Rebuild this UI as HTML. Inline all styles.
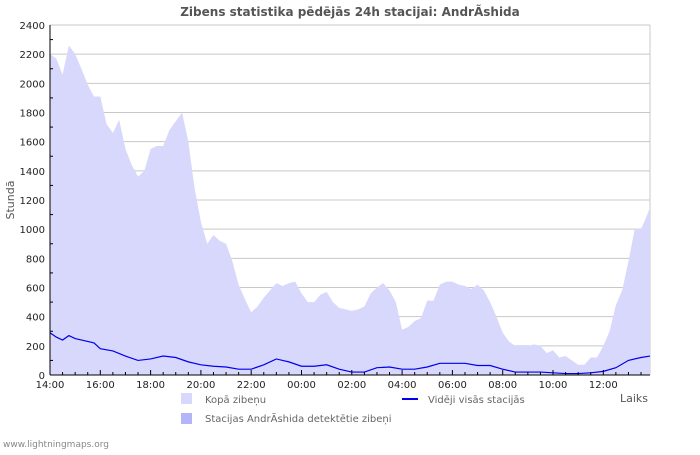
<!DOCTYPE html>
<html><head><meta charset="utf-8">
<style>
body{margin:0;background:#fff;font-family:"Liberation Sans","DejaVu Sans",sans-serif;}
svg text{font-family:"DejaVu Sans","Liberation Sans",sans-serif;}
</style></head>
<body>
<svg id="chart" width="700" height="450" viewBox="0 0 700 450" xmlns="http://www.w3.org/2000/svg">
<rect width="700" height="450" fill="#fff"/>
<text x="350" y="16" text-anchor="middle" font-size="12" font-weight="bold" fill="#555">Zibens statistika pēdējās 24h stacijai: AndrÃ­shida</text>
<g id="grid"></g>
<path id="area-total" fill="#d8d8fc" stroke="none"/>
<path id="line-avg" fill="none" stroke="#0000ee" stroke-width="1.2"/>
<g id="axes"></g>
<text transform="translate(14,200) rotate(-90)" text-anchor="middle" font-size="11" fill="#555">Stundā</text>
<text x="648" y="402" text-anchor="end" font-size="11" fill="#555">Laiks</text>
<rect x="181" y="393" width="11" height="11" fill="#d8d8fc"/>
<text x="205" y="403" font-size="10" fill="#666">Kopā zibeņu</text>
<rect x="181" y="413" width="11" height="11" fill="#b4b4f8"/>
<text x="205" y="422" font-size="10" fill="#666">Stacijas AndrÃ­shida detektētie zibeņi</text>
<line x1="402" y1="399" x2="418" y2="399" stroke="#0000ee" stroke-width="2"/>
<text x="428" y="403" font-size="10" fill="#666">Vidēji visās stacijās</text>
<text x="3" y="447" font-size="9" fill="#888">www.lightningmaps.org</text>
</svg>
<script>
const totalTimes=[0,0.25,0.5,0.75,1,1.25,1.5,1.75,2,2.25,2.5,2.75,3,3.25,3.5,3.75,4,4.25,4.5,4.75,5,5.25,5.5,5.75,6,6.25,6.5,6.75,7,7.25,7.5,7.75,8,8.25,8.5,8.75,9,9.25,9.5,9.75,10,10.25,10.5,10.75,11,11.25,11.5,11.75,12,12.25,12.5,12.75,13,13.25,13.5,13.75,14,14.25,14.5,14.75,15,15.25,15.5,15.75,16,16.25,16.5,16.75,17,17.25,17.5,17.75,18,18.25,18.5,18.75,19,19.25,19.5,19.75,20,20.25,20.5,20.75,21,21.25,21.5,21.75,22,22.25,22.5,22.75,23,23.25,23.5,23.75,23.9];
const totalValues=[2200,2170,2060,2260,2200,2100,1990,1910,1910,1720,1660,1750,1550,1440,1360,1400,1550,1570,1570,1680,1740,1800,1600,1280,1050,900,960,920,900,780,620,520,430,470,530,580,630,610,630,640,560,500,500,550,570,500,460,450,440,450,470,560,600,630,580,500,310,330,370,390,510,510,620,640,640,620,610,590,620,580,500,400,290,230,200,200,200,210,200,150,170,120,130,100,70,70,120,120,200,300,480,580,780,1000,1000,1100,1150];
const avgTimes=[0,0.25,0.5,0.75,1,1.5,1.75,2,2.5,3,3.5,4,4.5,5,5.5,6,6.5,7,7.5,8,8.5,9,9.25,9.5,10,10.5,11,11.5,12,12.5,13,13.5,14,14.5,15,15.5,16,16.5,17,17.5,18,18.5,19,19.5,20,20.5,21,21.5,22,22.5,23,23.5,23.9];
const avgValues=[290,260,240,270,250,230,220,180,165,130,100,110,130,120,90,70,60,55,40,40,70,110,100,90,60,60,70,40,20,20,50,55,40,40,55,80,80,80,65,65,40,20,20,20,15,10,10,15,25,50,100,120,130];
const yTicks=[0,200,400,600,800,1000,1200,1400,1600,1800,2000,2200,2400];
const xTickLabels=["14:00","16:00","18:00","20:00","22:00","00:00","02:00","04:00","06:00","08:00","10:00","12:00"];

const X0=50,X1=650,Y0=375,Y1=25,PXH=25.15;
const xs=t=>Math.min(X1,X0+t*PXH);
const ys=v=>Y0-(v/2400)*(Y0-Y1);
const NS="http://www.w3.org/2000/svg";
function mk(tag,attrs,parent){const e=document.createElementNS(NS,tag);for(const k in attrs)e.setAttribute(k,attrs[k]);parent.appendChild(e);return e;}
const grid=document.getElementById('grid'),axes=document.getElementById('axes');
yTicks.forEach(v=>{
  const g=mk('line',{x1:X0,x2:X1,y1:ys(v),y2:ys(v),stroke:'#c8c8c8','stroke-width':1},grid);
  
  
  const t=mk('text',{x:X0-5,y:ys(v)+4,'text-anchor':'end','font-size':10,fill:'#222'},axes);
  t.textContent=v;
  
  
});
for(let v=100;v<2400;v+=200){mk('line',{x1:X0,x2:X0+3,y1:ys(v),y2:ys(v),stroke:'#000'},axes);}
mk('line',{x1:X1,x2:X1,y1:Y1,y2:Y0,stroke:'#c8c8c8'},grid);
let d='M'+xs(0)+','+Y0;
for(let i=0;i<totalTimes.length;i++){d+=' L'+xs(totalTimes[i])+','+ys(totalValues[i]);}
d+=' L'+X1+','+ys(totalValues[totalValues.length-1])+' L'+X1+','+Y0+' Z';
document.getElementById('area-total').setAttribute('d',d);
document.getElementById('line-avg').setAttribute('d',avgTimes.map((t,i)=>(i?'L':'M')+xs(t)+','+ys(avgValues[i])).join(' '));
mk('line',{x1:X0,x2:X0,y1:Y1,y2:Y0,stroke:'#000'},axes);
mk('line',{x1:X0,x2:X1,y1:Y0,y2:Y0,stroke:'#000'},axes);
for(let t=0;t<=23.9;t+=0.5){
  const major=t%2===0;
  mk('line',{x1:xs(t),x2:xs(t),y1:Y0,y2:Y0-(major?5:3),stroke:'#000'},axes);
}
xTickLabels.forEach((l,i)=>{
  const t=mk('text',{x:xs(i*2),y:Y0+13,'text-anchor':'middle','font-size':10,fill:'#222'},axes);
  t.textContent=l;
  
  
});
</script>
</body></html>
